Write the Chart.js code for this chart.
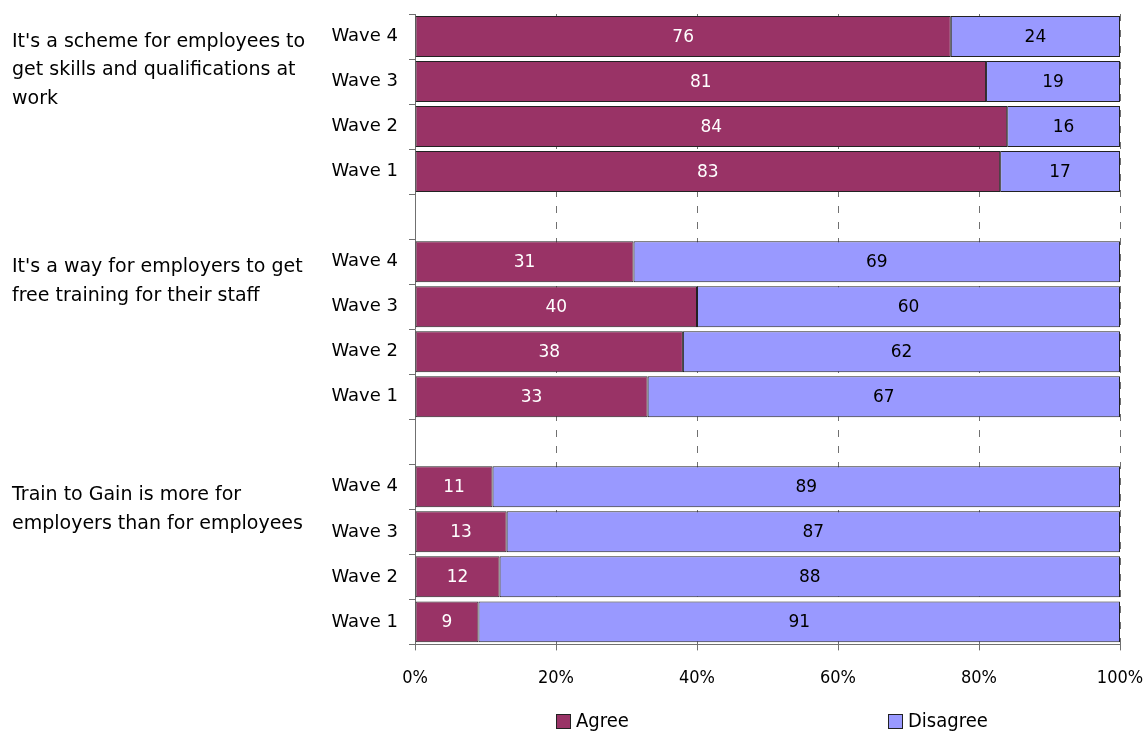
<!DOCTYPE html>
<html lang="en">
<head>
  <meta charset="UTF-8" />
  <title>Train to Gain – perceptions by wave</title>
  <script src="https://cdn.jsdelivr.net/npm/chart.js@4.4.0/dist/chart.umd.min.js"></script>
  <style>
    html, body { margin: 0; padding: 0; background: #fff; }
    #wrap { width: 1146px; height: 731px; }
  </style>
</head>
<body>
  <div id="wrap"><canvas id="waveChart"></canvas></div>

  <script>
    // ---- data (top to bottom, blank rows separate the statements) ----
    const rowLabels = ['Wave 4', 'Wave 3', 'Wave 2', 'Wave 1', '',
                       'Wave 4', 'Wave 3', 'Wave 2', 'Wave 1', '',
                       'Wave 4', 'Wave 3', 'Wave 2', 'Wave 1'];
    const agree    = [76, 81, 84, 83, null, 31, 40, 38, 33, null, 11, 13, 12, 9];
    const disagree = [24, 19, 16, 17, null, 69, 60, 62, 67, null, 89, 87, 88, 91];
    const statements = [
      ["It's a scheme for employees to", 'get skills and qualifications at', 'work'],
      ["It's a way for employers to get", 'free training for their staff'],
      ['Train to Gain is more for', 'employers than for employees']
    ];
    const statementRows = [0, 5, 10];   // first row of each statement
    const xTicks = [0, 20, 40, 60, 80, 100];

    const FONT = 'DejaVu Sans';
    const NARROW = '"DejaVu Sans Condensed", "Liberation Sans Narrow", "DejaVu Sans"';

    /* value labels inside the bars */
    const barValues = {
      id: 'barValues',
      afterDatasetsDraw(chart) {
        const ctx = chart.ctx;
        ctx.save();
        ctx.font = '17px "' + FONT + '"';
        ctx.textAlign = 'center';
        ctx.textBaseline = 'middle';
        chart.data.datasets.forEach((ds, i) => {
          chart.getDatasetMeta(i).data.forEach((bar, j) => {
            const v = ds.data[j];
            if (v == null) return;
            const c = bar.getCenterPoint();
            ctx.fillStyle = i === 0 ? '#ffffff' : '#000000';
            ctx.fillText(v, c.x, c.y + 1);
          });
        });
        ctx.restore();
      }
    };

    /* statement text left of the wave labels, and the legend underneath */
    const sideText = {
      id: 'sideText',
      afterDraw(chart) {
        const ctx = chart.ctx, y = chart.scales.y;
        const half = (y.getPixelForValue(1) - y.getPixelForValue(0)) / 2;
        const offs = [28, 28, 31];
        ctx.save();
        ctx.font = '19px "' + FONT + '"';
        ctx.fillStyle = '#000';
        ctx.textBaseline = 'middle';
        statements.forEach((lines, g) => {
          const top = y.getPixelForValue(statementRows[g]) - half;
          lines.forEach((t, k) => ctx.fillText(t, 12, top + offs[g] + k * 28.5));
        });

        // legend
        const legendX = [556, 888];
        ctx.font = '20px ' + NARROW;
        chart.data.datasets.forEach((ds, i) => {
          const x = legendX[i];
          ctx.fillStyle = ds.backgroundColor;
          ctx.fillRect(x, 714, 14, 14);
          ctx.strokeStyle = '#222';
          ctx.lineWidth = 1;
          ctx.strokeRect(x + 0.5, 714.5, 14, 14);
          ctx.fillStyle = '#000';
          ctx.fillText(ds.label, x + 20, 722);
        });
        ctx.restore();
      }
    };

    new Chart(document.getElementById('waveChart'), {
      type: 'bar',
      data: {
        labels: rowLabels,
        datasets: [
          { label: 'Agree', data: agree, backgroundColor: '#993366',
            borderColor: '#222222', borderWidth: 1, borderSkipped: false },
          { label: 'Disagree', data: disagree, backgroundColor: '#9999ff',
            borderColor: '#222222', borderWidth: 1, borderSkipped: false }
        ]
      },
      options: {
        indexAxis: 'y',
        responsive: true,
        maintainAspectRatio: false,
        animation: false,
        categoryPercentage: 0.91,
        barPercentage: 1,
        layout: { padding: { left: 0, right: 0, top: 14, bottom: 25 } },
        scales: {
          x: {
            stacked: true, min: 0, max: 100,
            afterBuildTicks: s => { s.ticks = xTicks.map(v => ({ value: v })); },
            afterFit: s => { s.paddingLeft = 0; s.paddingRight = 26; },
            ticks: { color: '#000', font: { family: NARROW, size: 18 }, padding: 17,
                     maxRotation: 0, callback: v => v + '%' },
            grid: {
              color: c => (c.tick && c.tick.value === 0 ? 'rgba(0,0,0,0)' : '#707070'),
              tickColor: '#707070', tickLength: 6
            },
            border: { color: '#707070', dash: [7, 9], display: true }
          },
          y: {
            stacked: true,
            afterFit: s => { s.width = 415; s.paddingTop = 0; s.paddingBottom = 0; },
            ticks: { color: '#000', font: { family: FONT, size: 18 }, padding: 11 },
            grid: { offset: true, drawOnChartArea: false, color: '#707070', tickLength: 6 },
            border: { color: '#707070' }
          }
        },
        plugins: {
          legend: { display: false },
          tooltip: { enabled: false }
        }
      },
      plugins: [barValues, sideText]
    });
  </script>
</body>
</html>
